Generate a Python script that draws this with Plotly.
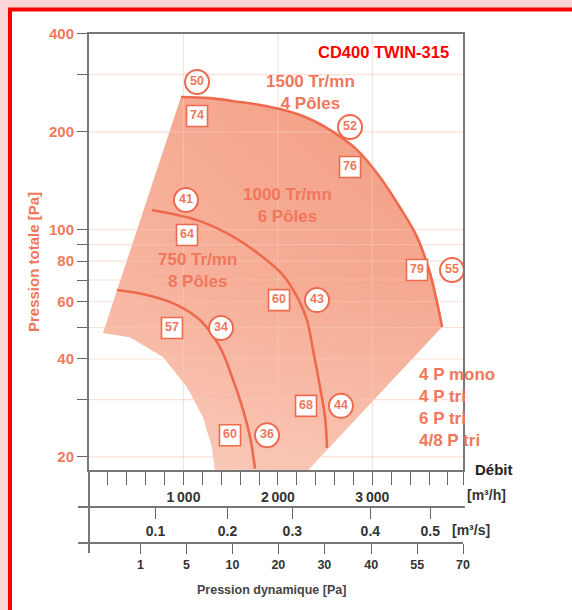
import math
import plotly.graph_objects as go

# ---------------- data (flow m3/h, total pressure Pa) ----------------
q_1500 = [974, 1281, 1599, 1811, 2022, 2308, 2584, 2838, 3081, 3293, 3473, 3611, 3696, 3738]
p_1500 = [256, 254, 247, 242, 235, 221, 200, 176, 145, 117, 95, 73.5, 57.8, 50.2]
q_1000 = [667, 1144, 1493, 1811, 2054, 2203, 2308, 2372, 2446, 2499, 2520]
p_1000 = [115, 107, 96.3, 83.6, 72.5, 62.1, 52.7, 42.6, 32.8, 26.5, 21.3]
q_750 = [296, 614, 932, 1175, 1387, 1525, 1631, 1705, 1758]
p_750 = [65.2, 62.9, 58.6, 52.7, 43.5, 34.5, 27.9, 23.0, 18.4]

# lower / left edge of the operating zone (closes the 1500 curve)
zone_q_lower = [3081, 2319, 1334, 1302, 1207, 1038, 784, 434, 148]
zone_p_lower = [31.4, 18.2, 18.2, 21.4, 26.5, 32.8, 40.6, 46.7, 48.1]

# acoustic labels
circ_q = [1144, 2764, 1027, 3844, 2414, 1398, 2668, 1885]
circ_p = [284.7, 206.9, 123.4, 75.1, 60.7, 49.8, 28.7, 23.3]
circ_txt = ['50', '52', '41', '55', '43', '34', '44', '36']
sq_q = [1144, 2764, 1038, 3473, 2012, 879, 2298, 1493]
sq_p = [223.7, 155.9, 96.3, 75.1, 60.7, 49.8, 28.7, 23.3]
sq_txt = ['74', '76', '64', '79', '60', '57', '68', '60']

speed_labels = ['1500 Tr/mn<br>4 Pôles', '1000 Tr/mn<br>6 Pôles', '750 Tr/mn<br>8 Pôles']
speed_q = [2340, 2107, 1144]
speed_p = [264, 119, 75.1]
motor_label = '4 P mono<br>4 P tri<br>6 P tri<br>4/8 P tri'
motor_q, motor_p = 3473, 28.4

# axes
x_range = [0, 3960]
y_ticks = [20, 30, 40, 50, 60, 70, 80, 90, 100, 200, 300, 400]
y_ticktext = ['20', '', '40', '', '60', '', '80', '', '100', '200', '', '400']
q_ticks = [1000, 2000, 3000]
q_ticktext = ['1\u2009000', '2\u2009000', '3\u2009000']
q_minor = [200, 400, 600, 800, 1200, 1400, 1600, 1800, 2200, 2400, 2600, 2800,
           3200, 3400, 3600, 3800, 3960]
ms_text = ['0.1', '0.2', '0.3', '0.4', '0.5']
ms_pos = [704, 1466, 2153, 2979, 3614]
pd_text = ['1', '5', '10', '20', '30', '40', '55', '70']
pd_pos = [545, 1032, 1519, 2005, 2492, 2989, 3476, 3960]

SAL = '#f0775b'
CURVE = '#ee6a4e'
FONT = 'Liberation Sans, Arial, sans-serif'

fig = go.Figure()

zone_q = q_1500 + zone_q_lower + [q_1500[0]]
zone_p = p_1500 + zone_p_lower + [p_1500[0]]
fig.add_trace(go.Scatter(
    x=zone_q, y=zone_p, mode='lines', fill='toself', line=dict(width=0),
    fillgradient=dict(type='horizontal',
                      colorscale=[[0, '#f6ae97'], [0.5, '#f5a48b'], [1, '#f39c83']]),
    hoverinfo='skip', showlegend=False))
fig.add_trace(go.Scatter(
    x=zone_q, y=zone_p, mode='lines', fill='toself', line=dict(width=0),
    fillgradient=dict(type='vertical',
                      colorscale=[[0, 'rgba(252,226,214,0.55)'], [0.5, 'rgba(252,226,214,0.15)'],
                                  [1, 'rgba(252,226,214,0)']]),
    hoverinfo='skip', showlegend=False))

# grid lines (above the zone, below the curves)
GRID = 'rgba(248,200,182,0.55)'
for yv in y_ticks[:-1]:
    fig.add_trace(go.Scatter(x=x_range, y=[yv, yv], mode='lines',
                             line=dict(color=GRID, width=1.2),
                             hoverinfo='skip', showlegend=False))
for xv in q_ticks:
    fig.add_trace(go.Scatter(x=[xv, xv], y=[18.2, 400], mode='lines',
                             line=dict(color=GRID, width=1.2),
                             hoverinfo='skip', showlegend=False))

for qq, pp in [(q_1500, p_1500), (q_1000, p_1000), (q_750, p_750)]:
    fig.add_trace(go.Scatter(x=qq, y=pp, mode='lines', line=dict(color=CURVE, width=2.6, shape='spline'),
                             hoverinfo='skip', showlegend=False))

fig.add_trace(go.Scatter(
    x=circ_q, y=circ_p, mode='markers+text', text=circ_txt, textposition='middle center',
    marker=dict(symbol='circle', size=24, color='white', line=dict(color=CURVE, width=2)),
    textfont=dict(family=FONT, size=12.5, color=SAL, weight='bold'),
    hoverinfo='skip', showlegend=False))
fig.add_trace(go.Scatter(
    x=sq_q, y=sq_p, mode='markers+text', text=sq_txt, textposition='middle center',
    marker=dict(symbol='square', size=21, color='white', line=dict(color=CURVE, width=1.6)),
    textfont=dict(family=FONT, size=12.5, color=SAL, weight='bold'),
    hoverinfo='skip', showlegend=False))

# dummy traces for the secondary axes
fig.add_trace(go.Scatter(x=[], y=[], xaxis='x2', yaxis='y', showlegend=False))
fig.add_trace(go.Scatter(x=[], y=[], xaxis='x3', yaxis='y', showlegend=False))

annotations = []
for t, qx, py in zip(speed_labels, speed_q, speed_p):
    annotations.append(dict(x=qx, y=math.log10(py), yref='y', xref='x', text=t, showarrow=False,
                            font=dict(family=FONT, size=17, color=SAL, weight='bold'),
                            xanchor='center', yanchor='middle', align='center'))
annotations.append(dict(x=motor_q, y=math.log10(motor_p), xref='x', yref='y', text=motor_label,
                        showarrow=False, align='left', xanchor='left', yanchor='middle',
                        font=dict(family=FONT, size=17, color=SAL, weight='bold')))
annotations.append(dict(x=0.968, y=0.9658, xref='paper', yref='paper', text='CD400 TWIN-315',
                        showarrow=False, xanchor='right', yanchor='middle',
                        font=dict(family=FONT, size=16.5, color='#ff0000', weight='bold')))
annotations.append(dict(x=(33 - 89) / 374, y=(560 - 262) / 526, xref='paper', yref='paper',
                        text='Pression totale [Pa]', showarrow=False, textangle=-90,
                        xanchor='center', yanchor='middle',
                        font=dict(family=FONT, size=15, color=SAL, weight='bold')))
dark = '#333333'
annotations.append(dict(x=1.027, y=0.173, xref='paper', yref='paper', text='Débit', showarrow=False,
                        xanchor='left', yanchor='middle', font=dict(family=FONT, size=15, color='#222', weight='bold')))
annotations.append(dict(x=1.006, y=0.1236, xref='paper', yref='paper', text='[m³/h]', showarrow=False,
                        xanchor='left', yanchor='middle', font=dict(family=FONT, size=14, color=dark, weight='bold')))
annotations.append(dict(x=0.965, y=0.057, xref='paper', yref='paper', text='[m³/s]', showarrow=False,
                        xanchor='left', yanchor='middle', font=dict(family=FONT, size=14, color=dark, weight='bold')))
annotations.append(dict(x=0.489, y=-0.057, xref='paper', yref='paper', text='Pression dynamique [Pa]',
                        showarrow=False, xanchor='center', yanchor='middle',
                        font=dict(family=FONT, size=12.5, color='#444', weight='bold')))

ydom0 = (560 - 470) / 526
pos2 = (560 - 507) / 526
pos3 = (560 - 543) / 526
AX = '#777777'
shapes = [
    dict(type='rect', xref='paper', yref='paper', x0=(10 - 89) / 374, x1=1.4, y0=-0.3, y1=(560 - 9.5) / 526,
         fillcolor='white', line=dict(color='#ff0000', width=4), layer='below'),
    dict(type='line', xref='paper', yref='paper', x0=0, x1=0, y0=(560 - 553) / 526, y1=ydom0,
         line=dict(color=AX, width=2)),
    dict(type='line', xref='paper', yref='paper', x0=-0.0294, x1=1.005, y0=pos2, y1=pos2,
         line=dict(color=AX, width=2)),
    dict(type='line', xref='paper', yref='paper', x0=-0.0294, x1=1.0, y0=pos3, y1=pos3,
         line=dict(color=AX, width=2)),
]

tickfont_dark = dict(family=FONT, size=14, color=dark, weight='bold')
fig.update_layout(
    width=572, height=610, autosize=False,
    margin=dict(l=89, r=109, t=34, b=50),
    paper_bgcolor='#fcd6d6', plot_bgcolor='#fde5db',
    font=dict(family=FONT),
    xaxis=dict(range=x_range, autorange=False, showgrid=False, zeroline=False,
               tickmode='array', tickvals=q_ticks, ticktext=q_ticktext,
               ticks='outside', ticklen=13, tickwidth=1.3, tickcolor='#666',
               showline=True, linecolor=AX, linewidth=2, mirror=True,
               tickfont=tickfont_dark,
               minor=dict(tickmode='array', tickvals=q_minor, ticks='outside', ticklen=13,
                          tickwidth=1.3, tickcolor='#666', showgrid=False)),
    xaxis2=dict(range=x_range, autorange=False, overlaying='x', anchor='free', position=pos2,
                side='bottom', showgrid=False, zeroline=False, showline=False,
                tickmode='array', tickvals=ms_pos, ticktext=ms_text,
                ticks='outside', ticklen=11, tickwidth=1.3, tickcolor='#666', tickfont=tickfont_dark),
    xaxis3=dict(range=x_range, autorange=False, overlaying='x', anchor='free', position=pos3,
                side='bottom', showgrid=False, zeroline=False, showline=False,
                tickmode='array', tickvals=pd_pos, ticktext=pd_text,
                ticks='outside', ticklen=10, tickwidth=1.3, tickcolor='#666',
                tickfont=dict(family=FONT, size=12.5, color=dark, weight='bold')),
    yaxis=dict(type='log', range=[1.2605, 2.602], autorange=False, domain=[ydom0, 1],
               showgrid=False, zeroline=False,
               tickmode='array', tickvals=y_ticks, ticktext=y_ticktext,
               ticks='outside', ticklen=10, tickwidth=1.3, tickcolor='#666',
               showline=True, linecolor=AX, linewidth=2, mirror=True,
               tickfont=dict(family=FONT, size=15, color='#f27a5c', weight='bold')),
    annotations=annotations, shapes=shapes,
)

fig.write_html('out.html', config={'displayModeBar': False},
               post_script="document.body.style.margin='0';document.body.style.padding='0';"
                           "document.body.style.overflow='hidden';")
